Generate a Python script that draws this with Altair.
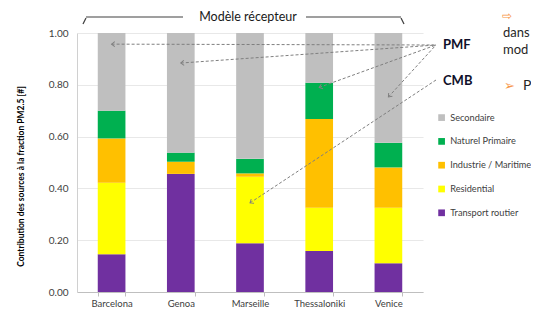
import math
import altair as alt
import pandas as pd

# ---- data ----
cities = ["Barcelona", "Genoa", "Marseille", "Thessaloniki", "Venice"]
sources = ["Secondaire", "Naturel Primaire", "Industrie / Maritime", "Residential", "Transport routier"]
colors = ["#BFBFBF", "#00B050", "#FFC000", "#FFFF00", "#7030A0"]

transport = [0.146, 0.456, 0.188, 0.158, 0.111]
residential = [0.276, 0.000, 0.257, 0.167, 0.214]
industrie = [0.171, 0.047, 0.013, 0.343, 0.156]
naturel = [0.107, 0.035, 0.056, 0.140, 0.095]
secondaire = [0.300, 0.462, 0.486, 0.192, 0.424]

pmf_targets = ["Barcelona", "Genoa", "Thessaloniki", "Venice"]
pmf_values = [0.957, 0.884, 0.790, 0.753]
cmb_targets = ["Marseille"]
cmb_values = [0.344]

# ---- layout ----
W, H = 346, 259
FONT = "Lato"
series = {
    "Transport routier": transport,
    "Residential": residential,
    "Industrie / Maritime": industrie,
    "Naturel Primaire": naturel,
    "Secondaire": secondaire,
}
stack_rank = {s: i for i, s in enumerate(series)}
rows = []
for src, vals in series.items():
    for c, v in zip(cities, vals):
        rows.append({"city": c, "source": src, "value": v, "rank": stack_rank[src]})
df = pd.DataFrame(rows)

xscale = alt.Scale(domain=cities, paddingInner=0.6, paddingOuter=0.3)
yscale = alt.Scale(domain=[0, 1], nice=False)

bars = alt.Chart(df).mark_bar().encode(
    x=alt.X("city:N", scale=xscale, sort=cities, title=None,
            axis=alt.Axis(labelAngle=0, labelFont=FONT, labelFontSize=9.5, labelColor="#404040",
                          tickBand="extent", tickSize=4, tickColor="#BFBFBF", domainColor="#BFBFBF",
                          labelPadding=2, grid=False)),
    y=alt.Y("value:Q", stack="zero", scale=yscale,
            title="Contribution des sources à la fraction PM2.5 [#]",
            axis=alt.Axis(values=[0, 0.2, 0.4, 0.6, 0.8, 1.0], format=".2f", labelFont=FONT,
                          labelFontSize=10, labelColor="#404040", ticks=False, labelPadding=9,
                          domainColor="#D0D0D0", gridColor="#E8E8E8", gridWidth=1.2,
                          titleFont=FONT, titleFontSize=8.5, titleFontWeight="bold", titleColor="#000000",
                          titleAngle=270, titleX=-57, titleY=143, titleAlign="center",
                          titleBaseline="middle")),
    color=alt.Color("source:N", scale=alt.Scale(domain=sources, range=colors),
                    legend=alt.Legend(title=None, orient="none", legendX=360, legendY=80,
                                      symbolType="square", symbolSize=45, symbolStrokeWidth=0,
                                      labelFont=FONT, labelFontSize=9.2, labelColor="#404040",
                                      rowPadding=13.8, labelLimit=200)),
    order=alt.Order("rank:Q", sort="ascending"),
)

# arrows (tail pixel positions relative to plot origin)
step = W / (len(cities) - 0.6 + 0.6)
def arrow_df(targets, values, tail):
    out = []
    for t, v in zip(targets, values):
        hx = (cities.index(t) + 0.5) * step
        hy = (1 - v) * H
        ang = math.degrees(math.atan2(hy - tail[1], hx - tail[0])) % 360
        out.append({"city": t, "value": v, "angle": ang})
    return pd.DataFrame(out)

PMF_TAIL = (359, 12)
CMB_TAIL = (359, 47)
chevron = "M-1,-0.8 L0,0 L-1,0.8"

def arrow_layers(d, tail):
    base = alt.Chart(d)
    line = base.mark_rule(stroke="#7F7F7F", strokeWidth=1, strokeDash=[3, 2]).encode(
        x=alt.X("city:N", scale=xscale, sort=cities),
        y=alt.Y("value:Q", scale=yscale),
        x2=alt.value(tail[0]), y2=alt.value(tail[1]))
    head = base.mark_point(shape=chevron, filled=False, stroke="#7F7F7F", strokeWidth=1,
                           size=40, opacity=1).encode(
        x=alt.X("city:N", scale=xscale, sort=cities),
        y=alt.Y("value:Q", scale=yscale),
        angle=alt.Angle("angle:Q", scale=None))
    return [line, head]

def txt(s, x, y, size=13, weight="normal", color="#1a1a1a", align="left"):
    return alt.Chart(pd.DataFrame({"t": [s]})).mark_text(
        text=s, font=FONT, fontSize=size, fontWeight=weight, color=color, align=align,
        baseline="middle").encode(x=alt.value(x), y=alt.value(y))

def seg(x, y, x2, y2):
    return alt.Chart(pd.DataFrame({"a": [0]})).mark_rule(stroke="#404040", strokeWidth=1.2).encode(
        x=alt.value(x), y=alt.value(y), x2=alt.value(x2), y2=alt.value(y2))

layers = [bars]
layers += arrow_layers(arrow_df(pmf_targets, pmf_values, PMF_TAIL), PMF_TAIL)
layers += arrow_layers(arrow_df(cmb_targets, cmb_values, CMB_TAIL), CMB_TAIL)
layers += [
    txt("PMF", 366, 12, weight="bold", color="#10102a"),
    txt("CMB", 366, 48, weight="bold", color="#10102a"),
    txt("Modèle récepteur", 171, -16, size=12.5, align="center"),
    seg(6, -9, 9, -15), seg(9, -16, 106, -16),
    seg(229, -16, 324, -16), seg(324, -15, 327, -9),
    txt("⇨", 425, -17, size=12, color="#F79646"),
    txt("dans", 426, 0, size=13, color="#262626"),
    txt("mod", 426, 17, size=13, color="#262626"),
    txt("➢", 427, 53, size=13, color="#F79646"),
    txt("P", 446, 53, size=14, color="#262626"),
]

chart = alt.layer(*layers).properties(
    width=W, height=H,
    autosize=alt.AutoSizeParams(type="none"),
    padding={"left": 69, "top": 25, "right": 108, "bottom": 20},
).configure_view(stroke=None)

chart.save("out.html", embed_options={"renderer": "svg", "actions": False})
